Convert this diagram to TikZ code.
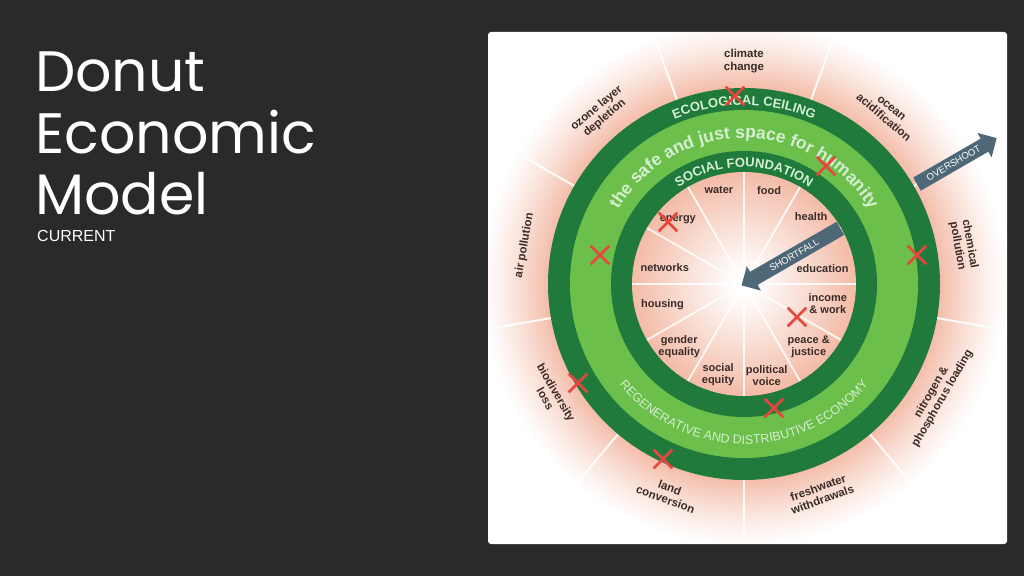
\documentclass[tikz,border=0pt]{standalone}
\usepackage{fontspec}
\setmainfont{Liberation Sans}
\newfontfamily\titlefont{Poppins}
\usetikzlibrary{calc,decorations.text,shapes.arrows,shapes.misc}

\definecolor{slate}{HTML}{2A2A2A}
\definecolor{ringdark}{HTML}{1F7A3C}
\definecolor{ringlight}{HTML}{6BBF4A}
\definecolor{glow}{HTML}{F3BCA8}
\definecolor{labtext}{HTML}{3A2B28}
\definecolor{ringtext}{HTML}{D4EFD2}
\definecolor{arrowblue}{HTML}{4E6877}
\definecolor{crossred}{HTML}{E8463C}

\newcommand\ceilfont{\fontsize{13}{13}\selectfont\bfseries}
\newcommand\safefont{\fontsize{17.5}{17.5}\selectfont\bfseries}
\newcommand\econfont{\fontsize{12.5}{12.5}\selectfont}

\begin{document}
\begin{tikzpicture}[x=1pt, y=1pt,
  lab/.style={font=\fontsize{11}{12}\selectfont\bfseries, text=labtext, align=center, inner sep=0pt},
  outlab/.style={lab, font=\fontsize{11.5}{12.5}\selectfont\bfseries},
  redx/.style={cross out, draw=crossred, line width=2.6pt, minimum size=16pt, inner sep=0pt},
  flow/.style={single arrow, fill=arrowblue, text=white, font=\fontsize{9.5}{9.5}\selectfont,
    single arrow head extend=6.5pt, inner xsep=3pt, inner ysep=4pt}
]

  % ── Slide background and card ──────────────────────────────────
  \useasboundingbox (0,0) rectangle (1024,576);
  \fill[slate] (0,0) rectangle (1024,576);
  \fill[white, rounded corners=3pt] (488,32) rectangle (1007,544);

  % ── Title ──────────────────────────────────────────────────────
  \node[anchor=base west, inner sep=0pt, text=white, font=\titlefont\fontsize{57}{57}\selectfont] (title1) at (35,484) {Donut};
  \node[anchor=base west, inner sep=0pt, text=white, font=\titlefont\fontsize{57}{57}\selectfont] (title2) at (35,422) {Economic};
  \node[anchor=base west, inner sep=0pt, text=white, font=\titlefont\fontsize{57}{57}\selectfont] (title3) at (35,361) {Model};
  \node[anchor=base west, inner sep=0pt, text=white, font=\fontsize{16}{16}\selectfont] (sub) at (37,334) {CURRENT};

  \coordinate (c) at (744,292);

  % ── Pink glow round the donut ──────────────────────────────────
  \begin{scope}
    \clip (489,33) rectangle (1006,543);
    \foreach \r in {262,260,...,196}{
      \pgfmathsetmacro\p{100*((264-\r)/68)^1.25}
      \fill[glow!\p!white] (c) circle[radius=\r];
    }
  \end{scope}

  % outer spokes
  \foreach \a in {30,70,...,350}{
    \draw[white, line width=2pt, opacity=.9] (c) ++(\a:196) -- ++(\a:62);
  }

  % ── Rings ──────────────────────────────────────────────────────
  \fill[ringdark]  (c) circle[radius=196];
  \fill[ringlight] (c) circle[radius=174];
  \fill[ringdark]  (c) circle[radius=133];

  % inner field, white in the middle
  \foreach \r in {112,110,...,2}{
    \pgfmathsetmacro\p{max(0,\r-12)}
    \fill[glow!\p!white] (c) circle[radius=\r];
  }
  \foreach \a in {0,30,...,330}{
    \draw[white, line width=1.8pt, opacity=.85] (c) -- ++(\a:112);
  }

  % ── Ring texts ─────────────────────────────────────────────────
  \path[decorate, decoration={text along path, text align=center, text color=ringtext,
      text={|\ceilfont|ECOLOGICAL CEILING}}]
    (c) ++(150:179) arc[start angle=150, end angle=30, radius=179];
  \path[decorate, decoration={text along path, text align=center, text color=ringtext,
      text={|\safefont|the safe and just space for humanity}}]
    (c) ++(170:146) arc[start angle=170, end angle=10, radius=146];
  \path[decorate, decoration={text along path, text align=center, text color=ringtext,
      text={|\ceilfont|SOCIAL FOUNDATION}}]
    (c) ++(160:117) arc[start angle=160, end angle=20, radius=117];
  \path[decorate, decoration={text along path, text align=center, text color=ringtext,
      text={|\econfont|REGENERATIVE AND DISTRIBUTIVE ECONOMY}}]
    (c) ++(200:160) arc[start angle=200, end angle=340, radius=160];

  % ── Arrows ─────────────────────────────────────────────────────
  \node[flow, shape border rotate=180, rotate=30, minimum height=114pt] (short) at ($(c)+(30:58)$) {SHORTFALL};
  \node[flow, rotate=30, minimum height=92pt] (over) at ($(c)+(30:242)$) {OVERSHOOT};

  % ── Social foundation labels ───────────────────────────────────
  \foreach \a/\d/\txt/\nm in {105/97/water/water, 75/97/food/food, 45/95/health/health,
      11/80/education/edu, -13/86/{income\\\& work}/income, -44/90/{peace \&\\justice}/peace,
      -76/94/{political\\voice}/voice, -106/94/{social\\equity}/equity,
      -136/90/{gender\\equality}/gender, -166/84/housing/housing,
      168/81/networks/net, 136/92/energy/energy}{
    \node[lab] (\nm) at ($(c)+(\a:\d)$) {\txt};
  }

  % ── Planetary boundary labels ──────────────────────────────────
  \foreach \a/\rot/\txt/\nm in {90/0/{climate\\change}/climate, 50/-40/{ocean\\acidification}/ocean,
      10/-80/{chemical\\pollution}/chem, -30/60/{nitrogen \&\\phosphorus loading}/nitro,
      -70/20/{freshwater\\withdrawals}/fresh, -110/-20/{land\\conversion}/land,
      -150/-60/{biodiversity\\loss}/bio, 170/80/{air pollution}/air,
      130/40/{ozone layer\\depletion}/ozone}{
    \node[outlab, rotate=\rot] (\nm) at ($(c)+(\a:223)$) {\txt};
  }

  % ── Red crosses ────────────────────────────────────────────────
  \foreach \px/\py [count=\i] in {735/480, 826/410, 917/321, 797/259, 774/168,
      663/117, 578/193, 600/321, 668/354}{
    \node[redx] (x\i) at (\px,\py) {};
  }

\end{tikzpicture}
\end{document}
